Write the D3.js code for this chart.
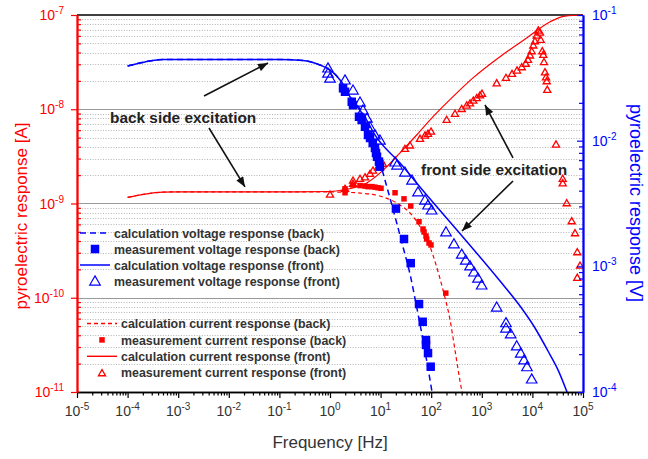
<!DOCTYPE html>
<html>
<head>
<meta charset="utf-8">
<script src="https://cdn.jsdelivr.net/npm/d3@7"></script>
<style>
  body { margin: 0; background: #fff; }
  svg { display: block; }
  text { font-family: "Liberation Sans", Arial, Helvetica, sans-serif; }
</style>
</head>
<body>
<svg id="chart" width="648" height="459"></svg>
<script>
// ---------- data ----------
// calculated voltage response (V), back side excitation
const calcVoltBackF = [1e-4, 2.21e-4, 5.0e-4, 1e-3, 1e-2, 0.1, 0.292, 0.634, 1.0, 1.58, 2.48, 5.31, 6.18, 8.89, 12.2, 16.1, 21.1, 27.7, 38.1, 51.2, 68.9, 104];
const calcVoltBackV = [0.0393, 0.0423, 0.0443, 0.0443, 0.0443, 0.0443, 0.0435, 0.0400, 0.0365, 0.0304, 0.0224, 0.0146, 0.0126, 0.00769, 0.00486, 0.00325, 0.00217, 0.00143, 0.000869, 0.000483, 0.000259, 0.0001];
// measured voltage response (V), back side excitation
const measVoltBackF = [1.81, 1.98, 2.69, 2.85, 3.74, 4.23, 4.92, 5.64, 6.18, 6.98, 7.74, 8.11, 8.49, 9.29, 9.72, 20.1, 29.0, 39.4, 57.4, 67.9, 78.9, 78.9, 86.5, 97.7];
const measVoltBackV = [0.0261, 0.0245, 0.0204, 0.0192, 0.0155, 0.0146, 0.0129, 0.0111, 0.0105, 0.00958, 0.00875, 0.00798, 0.00745, 0.00681, 0.00621, 0.00288, 0.00165, 0.00106, 0.000501, 0.000362, 0.000259, 0.000237, 0.000204, 0.000159];
// calculated voltage response (V), front side excitation
const calcVoltFrontF = [1e-4, 2.21e-4, 5.0e-4, 1e-3, 1e-2, 0.1, 0.292, 0.634, 1.0, 1.58, 2.48, 5.31, 7.74, 24.2, 75.4, 235, 735, 2291, 5689, 11250, 20320, 32060, 48310];
const calcVoltFrontV = [0.0393, 0.0423, 0.0443, 0.0443, 0.0443, 0.0443, 0.0435, 0.0400, 0.0365, 0.0304, 0.0224, 0.0146, 0.0111, 0.00664, 0.00384, 0.00225, 0.00132, 0.000764, 0.000483, 0.000323, 0.000212, 0.000150, 0.0001];
// measured voltage response (V), front side excitation
const measVoltFrontF = [0.912, 0.912, 1.0, 1.98, 2.85, 3.92, 4.49, 5.38, 6.18, 7.74, 9.72, 19.3, 21.1, 30.3, 41.8, 54.8, 75.4, 86.5, 102, 196, 282, 401, 481, 585, 701, 841, 995, 1968, 3006, 3006, 3724, 4898, 5875, 6823, 7816, 9683];
const measVoltFrontV = [0.0379, 0.0345, 0.0315, 0.0304, 0.0253, 0.0203, 0.0175, 0.0151, 0.0129, 0.0111, 0.0101, 0.00677, 0.00640, 0.00563, 0.00486, 0.00391, 0.00337, 0.00308, 0.00281, 0.00188, 0.00151, 0.00125, 0.00112, 0.00101, 0.000902, 0.000807, 0.000711, 0.000474, 0.000356, 0.000323, 0.000290, 0.000233, 0.000204, 0.000180, 0.000159, 0.000127];

// calculated current response (A), back side excitation
const calcCurrBackF = [1e-4, 2.21e-4, 5e-4, 1e-3, 1e-2, 0.1, 1.0, 1.58, 3.92, 9.72, 24.2, 38.1, 60.1, 94.6, 128, 171, 236, 295, 388, 407];
const calcCurrBackI = [1.16e-9, 1.26e-9, 1.32e-9, 1.33e-9, 1.33e-9, 1.33e-9, 1.33e-9, 1.32e-9, 1.29e-9, 1.20e-9, 9.64e-10, 7.93e-10, 5.68e-10, 3.48e-10, 2.13e-10, 1.21e-10, 5.81e-11, 2.79e-11, 1.14e-11, 1.0e-11];
// measured current response (A), back side excitation
const measCurrBackF = [1.98, 1.98, 2.85, 3.92, 4.92, 5.64, 6.76, 7.74, 8.89, 10.2, 19.3, 29.0, 39.4, 57.4, 68.9, 72.1, 78.9, 81.5, 90.6, 99.1, 194];
const measCurrBackI = [1.43e-9, 1.30e-9, 1.57e-9, 1.55e-9, 1.53e-9, 1.51e-9, 1.51e-9, 1.49e-9, 1.47e-9, 1.45e-9, 1.30e-9, 1.12e-9, 9.40e-10, 6.41e-10, 5.36e-10, 4.99e-10, 4.52e-10, 4.20e-10, 3.81e-10, 3.63e-10, 1.12e-10];
// calculated current response (A), front side excitation
const calcCurrFrontF = [1e-4, 2.21e-4, 5e-4, 1e-3, 1e-2, 0.1, 1.0, 1.81, 5.31, 13.2, 24.2, 51.6, 109, 270, 670, 2291, 7709, 22390, 44060, 1e5];
const calcCurrFrontI = [1.16e-9, 1.26e-9, 1.32e-9, 1.33e-9, 1.33e-9, 1.33e-9, 1.34e-9, 1.39e-9, 1.65e-9, 2.45e-9, 3.44e-9, 5.33e-9, 8.34e-9, 1.36e-8, 2.15e-8, 3.61e-8, 5.70e-8, 8.49e-8, 9.75e-8, 1.0e-7];
// measured current response (A), front side excitation
const measCurrFrontF = [1.0, 1.98, 2.85, 2.85, 3.92, 4.92, 6.18, 7.08, 8.89, 11.1, 30.3, 38.1, 60.1, 75.4, 86.5, 99.1, 202, 295, 401, 503, 585, 679, 793, 921, 1009, 1968, 3006, 3954, 4966, 6152, 7379, 8185, 8975, 9683, 10420, 11250, 12160, 13090, 14130, 14590, 15700, 16410, 16940, 17740, 18580, 19180, 19680, 29250, 39720, 39720, 47640, 59840, 69500, 77100, 87300, 77100];
const measCurrFrontI = [1.26e-9, 1.45e-9, 1.64e-9, 1.77e-9, 1.85e-9, 1.92e-9, 2.09e-9, 2.26e-9, 2.45e-9, 2.67e-9, 3.85e-9, 4.18e-9, 4.92e-9, 5.33e-9, 5.56e-9, 5.87e-9, 7.82e-9, 9.06e-9, 1.02e-8, 1.11e-8, 1.17e-8, 1.25e-8, 1.33e-8, 1.42e-8, 1.48e-8, 1.91e-8, 2.18e-8, 2.40e-8, 2.61e-8, 2.83e-8, 3.08e-8, 3.39e-8, 3.77e-8, 4.18e-8, 4.81e-8, 5.34e-8, 6.13e-8, 6.93e-8, 6.60e-8, 5.52e-8, 4.18e-8, 3.83e-8, 3.20e-8, 2.50e-8, 2.21e-8, 2.01e-8, 1.63e-8, 4.28e-9, 1.85e-9, 1.66e-9, 1.02e-9, 6.57e-10, 4.90e-10, 3.08e-10, 2.22e-10, 1.65e-10];

// tick exponents
const freqExps = [-5, -4, -3, -2, -1, 0, 1, 2, 3, 4, 5];
const currExps = [-11, -10, -9, -8, -7];
const voltExps = [-4, -3, -2, -1];

// legend texts
const voltLegend = [
  "calculation voltage response (back)",
  "measurement voltage response (back)",
  "calculation voltage response (front)",
  "measurement voltage response (front)"
];
const currLegend = [
  "calculation current response (back)",
  "measurement current response (back)",
  "calculation current response (front)",
  "measurement current response (front)"
];

// arrow annotations: [axis, f0, v0, f1, v1]
const arrows = [
  ["V", 0.00324, 0.0227, 0.0596, 0.0415],
  ["A", 0.00406, 6.32e-9, 0.0209, 1.50e-9],
  ["A", 4140, 3.04e-9, 1156, 1.11e-8],
  ["V", 4140, 0.00478, 406, 0.00191]
];

// ---------- layout ----------
const RED = "#ff0000", BLUE = "#0000ff", INK = "#333333";
const box = { left: 77, right: 583, top: 15, bottom: 392 };

const x = d3.scaleLog().domain([1e-5, 1e5]).range([box.left, box.right]);
const yA = d3.scaleLog().domain([1e-11, 1e-7]).range([box.bottom, box.top]);
const yV = d3.scaleLog().domain([1e-4, 1e-1]).range([box.bottom, box.top]);

const svg = d3.select("#chart");

svg.append("defs").append("clipPath").attr("id", "plotClip")
  .append("rect")
  .attr("x", box.left).attr("y", box.top - 1)
  .attr("width", box.right - box.left).attr("height", box.bottom - box.top + 1);

const decades = (exps) => exps.map(e => Math.pow(10, e));
const minorsBetween = (exps) => {
  const out = [];
  for (let i = 0; i < exps.length - 1; i++)
    for (let m = 2; m <= 9; m++) out.push(m * Math.pow(10, exps[i]));
  return out;
};

// ---------- grid ----------
const grid = svg.append("g");
grid.selectAll("line.minor").data(minorsBetween(currExps)).join("line")
  .attr("x1", box.left).attr("x2", box.right)
  .attr("y1", d => Math.round(yA(d)) + 0.5).attr("y2", d => Math.round(yA(d)) + 0.5)
  .attr("stroke", "#b4b4b4").attr("stroke-width", 1).attr("stroke-dasharray", "1,1.6");
grid.selectAll("line.major").data(decades(currExps.slice(1, -1))).join("line")
  .attr("x1", box.left).attr("x2", box.right)
  .attr("y1", d => Math.round(yA(d)) + 0.5).attr("y2", d => Math.round(yA(d)) + 0.5)
  .attr("stroke", "#9a9a9a").attr("stroke-width", 1.2);

// top frame line
svg.append("line")
  .attr("x1", box.left).attr("x2", box.right)
  .attr("y1", box.top).attr("y2", box.top)
  .attr("stroke", "#000").attr("stroke-width", 1.5);

// ---------- series ----------
const plot = svg.append("g").attr("clip-path", "url(#plotClip)");

function zip(fs, vs) { return fs.map((f, i) => [f, vs[i]]); }

function curve(fs, vs, yScale, color, dash, width) {
  const gen = d3.line().x(d => x(d[0])).y(d => yScale(d[1])).curve(d3.curveMonotoneX);
  plot.append("path").datum(zip(fs, vs))
    .attr("d", gen).attr("fill", "none")
    .attr("stroke", color).attr("stroke-width", width)
    .attr("stroke-dasharray", dash || null);
}

function squares(fs, vs, yScale, color, size) {
  plot.append("g").selectAll("rect").data(zip(fs, vs)).join("rect")
    .attr("x", d => x(d[0]) - size / 2).attr("y", d => yScale(d[1]) - size / 2)
    .attr("width", size).attr("height", size).attr("fill", color);
}

const triSym = (size) => d3.symbol().type(d3.symbolTriangle).size(size);
function triangles(fs, vs, yScale, color, size, sw) {
  plot.append("g").selectAll("path").data(zip(fs, vs)).join("path")
    .attr("transform", d => `translate(${x(d[0])},${yScale(d[1]) + 1})`)
    .attr("d", triSym(size)).attr("fill", "none")
    .attr("stroke", color).attr("stroke-width", sw);
}

// current (left axis)
curve(calcCurrFrontF, calcCurrFrontI, yA, RED, null, 1.2);
curve(calcCurrBackF, calcCurrBackI, yA, RED, "4,3", 1.2);
squares(measCurrBackF, measCurrBackI, yA, RED, 5.5);
triangles(measCurrFrontF, measCurrFrontI, yA, RED, 22, 1.3);

// voltage (right axis)
curve(calcVoltFrontF, calcVoltFrontV, yV, BLUE, null, 1.5);
curve(calcVoltBackF, calcVoltBackV, yV, BLUE, "6,4", 1.5);
squares(measVoltBackF, measVoltBackV, yV, BLUE, 8.5);
triangles(measVoltFrontF, measVoltFrontV, yV, BLUE, 48, 1.2);

// ---------- axes ----------
function styleAxis(g, color, width) {
  g.select(".domain").attr("stroke", color).attr("stroke-width", width);
  g.selectAll(".tick line").attr("stroke", color).attr("stroke-width", 1.2);
  g.selectAll(".tick text").remove();
}

// bottom
const gxMinor = svg.append("g").attr("transform", `translate(0,${box.bottom})`)
  .call(d3.axisBottom(x).tickValues(minorsBetween(freqExps)).tickSize(3.5).tickSizeOuter(0).tickFormat(""));
styleAxis(gxMinor, "#000", 1.5);
const gx = svg.append("g").attr("transform", `translate(0,${box.bottom})`)
  .call(d3.axisBottom(x).tickValues(decades(freqExps)).tickSize(6).tickSizeOuter(0).tickFormat(""));
styleAxis(gx, "#000", 1.5);

// left (current)
const gyAMinor = svg.append("g").attr("transform", `translate(${box.left},0)`)
  .call(d3.axisRight(yA).tickValues(minorsBetween(currExps)).tickSize(4).tickSizeOuter(0).tickFormat(""));
styleAxis(gyAMinor, RED, 1.8);
const gyA = svg.append("g").attr("transform", `translate(${box.left},0)`)
  .call(d3.axisLeft(yA).tickValues(decades(currExps)).tickSize(6).tickSizeOuter(0).tickFormat(""));
styleAxis(gyA, RED, 1.8);

// right (voltage), ticks pointing inward
const gyVMinor = svg.append("g").attr("transform", `translate(${box.right},0)`)
  .call(d3.axisLeft(yV).tickValues(minorsBetween(voltExps)).tickSize(4).tickSizeOuter(0).tickFormat(""));
styleAxis(gyVMinor, BLUE, 1.8);
const gyV = svg.append("g").attr("transform", `translate(${box.right},0)`)
  .call(d3.axisLeft(yV).tickValues(decades(voltExps)).tickSize(6).tickSizeOuter(0).tickFormat(""));
styleAxis(gyV, BLUE, 1.8);

// power-of-ten tick labels
function powLabel(px, py, exp, anchor, color) {
  const t = svg.append("text").attr("x", px).attr("y", py)
    .attr("text-anchor", anchor).attr("fill", color).attr("font-size", 14);
  t.append("tspan").text("10");
  t.append("tspan").attr("dy", -6).attr("font-size", 10).text(exp);
}
freqExps.forEach(e => powLabel(x(Math.pow(10, e)), box.bottom + 24, e, "middle", INK));
currExps.forEach(e => powLabel(box.left - 13, yA(Math.pow(10, e)) + 5, e, "end", RED));
voltExps.forEach(e => powLabel(box.right + 9, yV(Math.pow(10, e)) + 5, e, "start", BLUE));

// axis titles
svg.append("text").attr("transform", `translate(${(box.left + box.right) / 2},448)`)
  .attr("text-anchor", "middle").attr("fill", INK).attr("font-size", 17)
  .text("Frequency [Hz]");
svg.append("text").attr("transform", "translate(27,216) rotate(-90)")
  .attr("text-anchor", "middle").attr("fill", RED).attr("font-size", 17)
  .text("pyroelectric response [A]");
svg.append("text").attr("transform", "translate(630,203) rotate(90)")
  .attr("text-anchor", "middle").attr("fill", BLUE).attr("font-size", 18)
  .text("pyroelectric response [V]");

// ---------- legends ----------
function legendBlock(labels, color, top, step, lineX0, lineX1, textX, sqSize, triSize, triSw, dashPat, lineW) {
  const g = svg.append("g");
  const cx = (lineX0 + lineX1) / 2;
  labels.forEach((lab, i) => {
    const yy = top + i * step;
    if (i === 0 || i === 2) {
      g.append("line").attr("x1", lineX0).attr("x2", lineX1).attr("y1", yy).attr("y2", yy)
        .attr("stroke", color).attr("stroke-width", lineW)
        .attr("stroke-dasharray", i === 0 ? dashPat : null);
    } else if (i === 1) {
      g.append("rect").attr("x", cx - sqSize / 2).attr("y", yy - sqSize / 2)
        .attr("width", sqSize).attr("height", sqSize).attr("fill", color);
    } else {
      g.append("path").attr("transform", `translate(${cx},${yy + 1})`)
        .attr("d", triSym(triSize)).attr("fill", "none")
        .attr("stroke", color).attr("stroke-width", triSw);
    }
    g.append("text").attr("x", textX).attr("y", yy + 4.6)
      .attr("font-size", 12.4).attr("font-weight", "bold").attr("fill", INK).text(lab);
  });
}
legendBlock(voltLegend, BLUE, 233, 16, 80, 110, 114, 8.5, 48, 1.2, "6,4", 1.5);
legendBlock(currLegend, RED, 323.5, 16.4, 87, 117, 121, 5.5, 22, 1.3, "4,3", 1.4);

// ---------- annotations ----------
svg.append("defs").append("marker")
  .attr("id", "head").attr("viewBox", "0 0 10 8").attr("refX", 10).attr("refY", 4)
  .attr("markerWidth", 11).attr("markerHeight", 8).attr("markerUnits", "userSpaceOnUse")
  .attr("orient", "auto")
  .append("path").attr("d", "M0,0 L10,4 L0,8 Z").attr("fill", "#111");

arrows.forEach(([ax, f0, v0, f1, v1]) => {
  const ys = ax === "A" ? yA : yV;
  svg.append("line")
    .attr("x1", x(f0)).attr("y1", ys(v0)).attr("x2", x(f1)).attr("y2", ys(v1))
    .attr("stroke", "#111").attr("stroke-width", 1.6).attr("marker-end", "url(#head)");
});

svg.append("text").attr("x", 110).attr("y", 123)
  .attr("font-size", 15.4).attr("font-weight", "bold").attr("fill", "#222")
  .text("back side excitation");
svg.append("text").attr("x", 421).attr("y", 175)
  .attr("font-size", 15.4).attr("font-weight", "bold").attr("fill", "#222")
  .text("front side excitation");
</script>
</body>
</html>
